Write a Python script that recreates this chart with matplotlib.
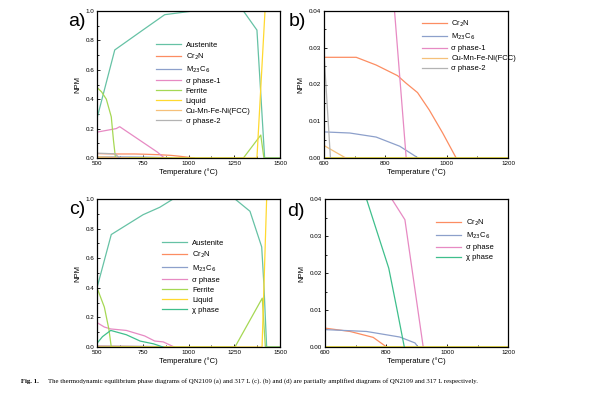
import numpy as np
import matplotlib.pyplot as plt

plt.rcParams.update({'font.family': ['Liberation Sans', 'DejaVu Sans'], 'font.size': 5})

# QN2109 (a, b)
aus_a_T = [500, 597, 750, 870, 1025, 1300, 1374, 1416, 1500]
aus_a = [0.27, 0.735, 0.87, 0.975, 1.0, 1.0, 0.87, 0.0, 0.0]
cr2n_a_T = [500, 600, 705, 770, 840, 867, 905, 943, 987, 1031]
cr2n_a = [0.03, 0.0274, 0.0274, 0.0253, 0.0224, 0.0204, 0.0178, 0.0131, 0.0068, 0.0]
m23_a_T = [500, 600, 684, 770, 847, 907]
m23_a = [0.0075, 0.0071, 0.0068, 0.0057, 0.0032, 0.0]
sig1_a_T = [500, 605, 624, 830, 868]
sig1_a = [0.176, 0.2, 0.213, 0.04, 0.0]
fer_a_T = [500, 525, 551, 578, 590, 601, 1300, 1395, 1412, 1500]
fer_a = [0.48, 0.45, 0.40, 0.28, 0.12, 0.0, 0.0, 0.156, 0.0, 0.0]
liq_a_T = [500, 1374, 1418, 1500]
liq_a = [0.0, 0.0, 1.0, 1.0]
fcc_a_T = [500, 600, 671]
fcc_a = [0.008, 0.0034, 0.0]
sig2_a_T = [500, 600, 621]
sig2_a = [0.033, 0.0285, 0.0]

# 317 L (c, d)
aus_c_T = [500, 578, 752, 843, 916, 1254, 1336, 1400, 1412, 1427, 1500]
aus_c = [0.40, 0.76, 0.894, 0.944, 1.0, 1.0, 0.917, 0.676, 0.42, 0.0, 0.0]
cr2n_c_T = [500, 600, 682, 758, 802]
cr2n_c = [0.006, 0.0051, 0.0042, 0.0026, 0.0]
m23_c_T = [500, 600, 736, 845, 895, 905]
m23_c = [0.005, 0.0047, 0.0042, 0.0027, 0.0011, 0.0]
sig_c_T = [500, 540, 575, 660, 760, 815, 862, 922]
sig_c = [0.165, 0.135, 0.122, 0.112, 0.075, 0.0405, 0.0344, 0.0]
fer_c_T = [500, 540, 565, 578, 1254, 1403, 1420, 1500]
fer_c = [0.40, 0.27, 0.12, 0.0, 0.0, 0.33, 0.0, 0.0]
liq_c_T = [500, 1402, 1427, 1500]
liq_c = [0.0, 0.0, 1.0, 1.0]
chi_c_T = [500, 530, 575, 660, 736, 809, 835, 860]
chi_c = [0.025, 0.07, 0.112, 0.083, 0.04, 0.0213, 0.0106, 0.0]

col = {'aus': '#66c2a5', 'cr2n': '#fc8d62', 'm23': '#8da0cb', 'sig': '#e78ac3',
       'fer': '#a6d854', 'liq': '#ffd92f', 'fcc': '#f5c07a', 'sig2': '#b3b3b3', 'chi': '#3fbf8c'}

series_a = [('Austenite', aus_a_T, aus_a, 'aus'),
            ('Cr$_2$N', cr2n_a_T, cr2n_a, 'cr2n'),
            ('M$_{23}$C$_6$', m23_a_T, m23_a, 'm23'),
            ('σ phase-1', sig1_a_T, sig1_a, 'sig'),
            ('Ferrite', fer_a_T, fer_a, 'fer'),
            ('Liquid', liq_a_T, liq_a, 'liq'),
            ('Cu-Mn-Fe-Ni(FCC)', fcc_a_T, fcc_a, 'fcc'),
            ('σ phase-2', sig2_a_T, sig2_a, 'sig2')]
series_c = [('Austenite', aus_c_T, aus_c, 'aus'),
            ('Cr$_2$N', cr2n_c_T, cr2n_c, 'cr2n'),
            ('M$_{23}$C$_6$', m23_c_T, m23_c, 'm23'),
            ('σ phase', sig_c_T, sig_c, 'sig'),
            ('Ferrite', fer_c_T, fer_c, 'fer'),
            ('Liquid', liq_c_T, liq_c, 'liq'),
            ('χ phase', chi_c_T, chi_c, 'chi')]

fig = plt.figure(figsize=(6, 3.94), dpi=100)
W, H = 600, 394


def make_ax(x0, y0, x1, y1):
    return fig.add_axes([x0/W, 1 - y1/H, (x1-x0)/W, (y1-y0)/H])


def style(ax, xlim, xstep, ylim, ystep, fmt):
    ax.set_xlim(xlim)
    ax.set_ylim(ylim)
    ax.set_xticks(np.arange(xlim[0], xlim[1] + 1, xstep))
    ax.set_xticks(np.arange(xlim[0], xlim[1] + 1, xstep/2), minor=True)
    ax.set_yticks(np.arange(ylim[0], ylim[1] + ystep/2, ystep))
    ax.set_yticks(np.arange(ylim[0], ylim[1] + ystep/2, ystep/2), minor=True)
    ax.yaxis.set_major_formatter(plt.FormatStrFormatter(fmt))
    ax.tick_params(which='both', direction='in', length=2, width=0.6, labelsize=4.5, pad=2)
    ax.tick_params(which='minor', length=1.2)
    for s in ax.spines.values():
        s.set_linewidth(0.9)
    ax.set_xlabel('Temperature (°C)', fontsize=5.5, labelpad=2)
    ax.set_ylabel('NPM', fontsize=5.5, labelpad=3)


def draw(ax, series, keep):
    for name, T, v, c in series:
        lab = name if name in keep else None
        ax.plot(T, v, color=col[c], lw=0.9, label=lab)


def leg(ax, x, y):
    ax.legend(loc='upper left', bbox_to_anchor=(x, y), frameon=False, fontsize=5.5,
              handlelength=3.3, labelspacing=0.35, borderpad=0, handletextpad=0.6)


ax_a = make_ax(97, 11, 280, 158)
draw(ax_a, series_a, [s[0] for s in series_a])
style(ax_a, (500, 1500), 250, (0, 1.0), 0.2, '%.1f')
leg(ax_a, 0.3, 0.82)

ax_b = make_ax(324, 11, 508, 158)
draw(ax_b, series_a, ['Cr$_2$N', 'M$_{23}$C$_6$', 'σ phase-1', 'Cu-Mn-Fe-Ni(FCC)', 'σ phase-2'])
style(ax_b, (600, 1200), 200, (0, 0.04), 0.01, '%.2f')
leg(ax_b, 0.51, 0.975)

ax_c = make_ax(97, 199, 280, 347)
draw(ax_c, series_c, [s[0] for s in series_c])
style(ax_c, (500, 1500), 250, (0, 1.0), 0.2, '%.1f')
leg(ax_c, 0.335, 0.75)

ax_d = make_ax(325, 199, 508, 347)
draw(ax_d, series_c, ['Cr$_2$N', 'M$_{23}$C$_6$', 'σ phase', 'χ phase'])
style(ax_d, (600, 1200), 200, (0, 0.04), 0.01, '%.2f')
leg(ax_d, 0.585, 0.9)

for lab, x, y in [('a)', 77, 22), ('b)', 297, 22), ('c)', 77, 209), ('d)', 296, 211)]:
    fig.text(x/W, 1 - y/H, lab, fontsize=14, ha='center', va='center')

fig.text(21/W, 1 - 381/H, 'Fig. 1.', fontsize=4.9, family='Liberation Serif', weight='bold', va='center')
fig.text(48/W, 1 - 381/H, 'The thermodynamic equilibrium phase diagrams of QN2109 (a) and 317 L (c). '
         '(b) and (d) are partially amplified diagrams of QN2109 and 317 L respectively.',
         fontsize=4.9, family='Liberation Serif', va='center')

plt.savefig('out.png', dpi=100)
